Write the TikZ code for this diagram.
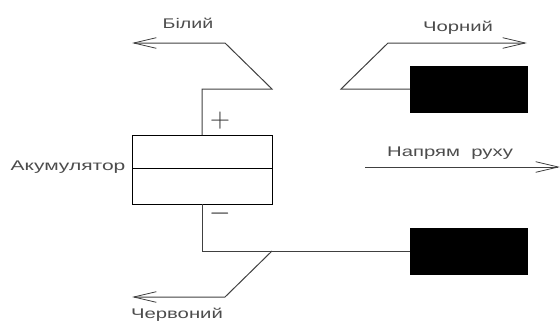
\documentclass[tikz,border=0pt]{standalone}
\usepackage{fontspec}
\setmainfont{Liberation Sans}
\usetikzlibrary{arrows.meta}
\tikzset{
  wire/.style={draw=black!75,line width=0.75pt},
  lead/.style={wire,-{Straight Barb[length=17pt,width=8pt,line width=0.6pt]}},
  cell/.style={draw=black,line width=0.6pt,minimum width=105pt,inner sep=0pt,outer sep=0pt},
  lamp/.style={draw=black,fill=black,minimum width=87.75pt,minimum height=34.5pt,inner sep=0pt,outer sep=0pt},
  tag/.style={inner sep=0pt,font=\fontsize{10.5}{12}\selectfont,text=black!70},
  sign/.style={inner sep=0pt,font=\fontsize{20}{20}\selectfont,text=black!80}
}
\newcommand{\widetag}[2]{\scalebox{#1}[1]{#2}}
\begin{document}
\begin{tikzpicture}[x=0.75pt,y=0.75pt,yscale=-1,xscale=1]
    \useasboundingbox (0,0) rectangle (560,322);

    % battery
    \node [cell,minimum height=24.75pt,anchor=south west] (celltop) at (132,168) {};
    \node [cell,minimum height=27pt,anchor=north west] (cellbot) at (132,168) {};
    \node [tag] (batlabel) at (68,167) {\widetag{1.5}{Акумулятор}};
    \node [sign] (plus) at (220,121) {$+$};
    \node [sign] (minus) at (220,214) {$-$};

    % lamps
    \node [lamp,anchor=north west] (lamptop) at (410,66) {};
    \node [lamp,anchor=north west] (lampbot) at (410,228) {};

    % free ends
    \coordinate (whiteend) at (132,43);
    \coordinate (blackend) at (527,43);
    \coordinate (redend) at (132,297);
    \coordinate (tapbot) at (272,251);
    \coordinate (movefrom) at (365,167);
    \coordinate (moveto) at (560,167);

    % wires
    \draw [lead] (celltop.north -| 202,135) -- (202,89) -- (272,89) -- (225,43) -- (whiteend);
    \draw [lead] (lamptop.west) -- (341,89) -- (388,43) -- (blackend);
    \draw [wire] (cellbot.south -| 202,204) -- (202,251) -- (lampbot.west);
    \draw [lead] (tapbot) -- (225,297) -- (redend);
    \draw [lead] (movefrom) -- (moveto);

    % labels
    \node [tag] (whitelabel) at (188,23) {\widetag{1.4}{Білий}};
    \node [tag] (blacklabel) at (458,28) {\widetag{1.45}{Чорний}};
    \node [tag] (movelabel) at (450,153) {\widetag{1.45}{Напрям\ \ руху}};
    \node [tag] (redlabel) at (177,315) {\widetag{1.45}{Червоний}};
\end{tikzpicture}
\end{document}
